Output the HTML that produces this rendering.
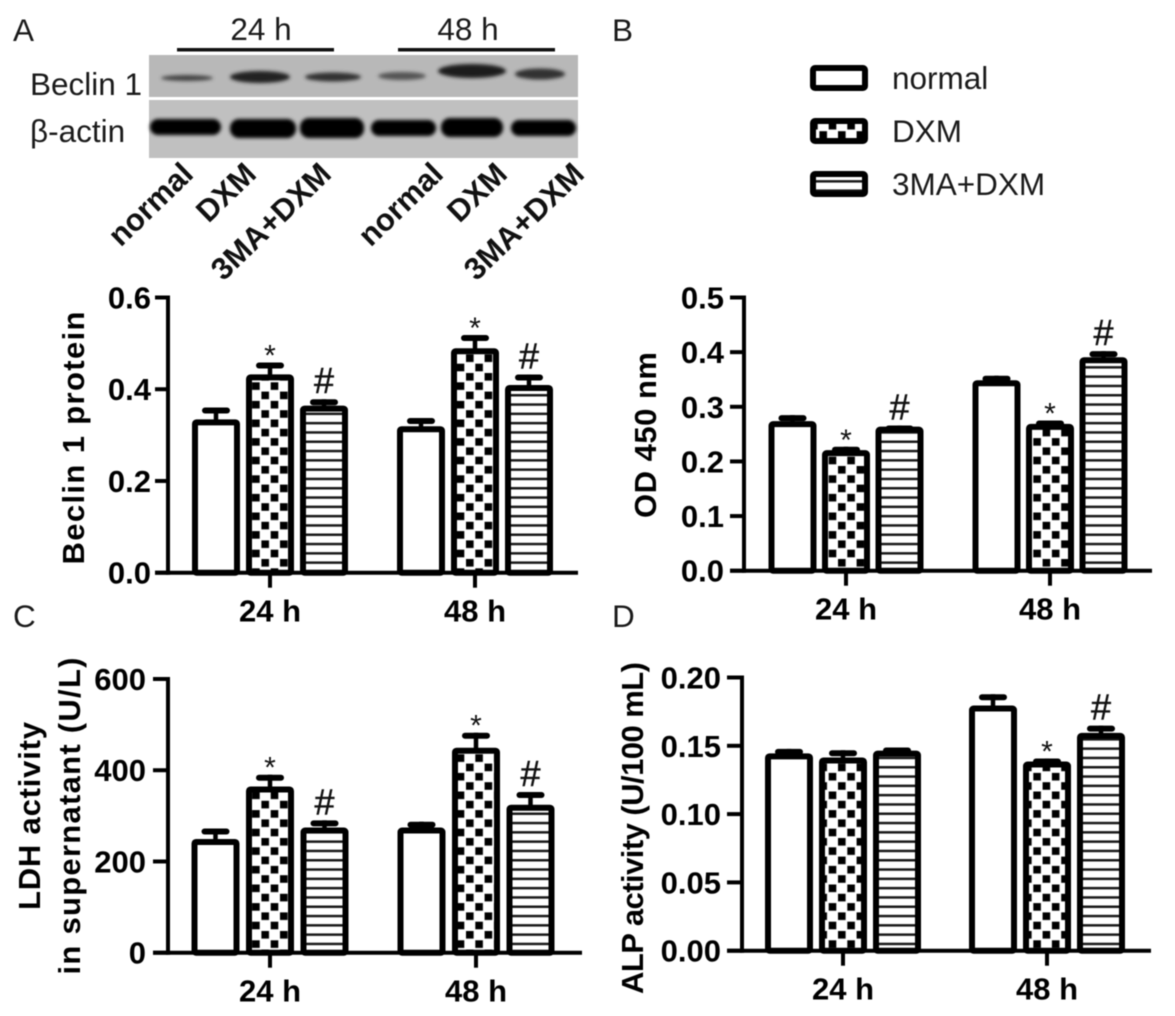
<!DOCTYPE html>
<html lang="en">
<head>
<meta charset="utf-8">
<title>Beclin 1, OD 450, LDH and ALP bar charts</title>
<style>
html,body{margin:0;padding:0;background:#fff;width:1175px;height:1016px;overflow:hidden}
svg{display:block;filter:blur(.6px)}
text{font-family:"Liberation Sans",sans-serif;fill:#111}
.b{font-weight:bold;font-size:31px;fill:#000}
.r{font-size:31.5px;fill:#1a1a1a}
</style>
</head>
<body>
<svg id="fig" xmlns="http://www.w3.org/2000/svg" width="1175" height="1016" viewBox="0 0 1175 1016">
<defs>
<pattern id="checker" patternUnits="userSpaceOnUse" width="18.6" height="18.6">
<rect width="18.6" height="18.6" fill="#fff"/>
<rect x="1" y="1" width="7.6" height="7.6" fill="#000"/>
<rect x="10.3" y="10.3" width="7.6" height="7.6" fill="#000"/>
</pattern>
<pattern id="stripes" patternUnits="userSpaceOnUse" width="10" height="9.3">
<rect width="10" height="9.3" fill="#fff"/>
<rect y="3.4" width="10" height="2.5" fill="#1a1a1a"/>
</pattern>
<filter id="bandblur" x="-20%" y="-80%" width="140%" height="260%"><feGaussianBlur stdDeviation="1.8"/></filter>
</defs>
<rect width="1175" height="1016" fill="#fff"/>

<text class="r" x="13" y="41">A</text>
<text class="r" x="612" y="41">B</text>
<text class="r" x="13" y="627">C</text>
<text class="r" x="612" y="627">D</text>

<g>
<text class="r" x="261" y="40" text-anchor="middle">24 h</text>
<text class="r" x="468" y="40" text-anchor="middle">48 h</text>
<rect x="177" y="48" width="157" height="3.5" fill="#111"/>
<rect x="398" y="48" width="157" height="3.5" fill="#111"/>
<rect x="149" y="55" width="429" height="42" fill="#b8b8b8"/>
<rect x="149" y="100" width="429" height="58" fill="#c0c0c0"/>
<g filter="url(#bandblur)">
<ellipse cx="187" cy="78" rx="26" ry="3" fill="#444"/>
<ellipse cx="260" cy="77" rx="30" ry="6" fill="#222"/>
<ellipse cx="333" cy="77" rx="28" ry="4.5" fill="#333"/>
<ellipse cx="402" cy="76" rx="24" ry="4" fill="#555"/>
<ellipse cx="472" cy="71" rx="34" ry="7" fill="#1a1a1a"/>
<ellipse cx="540" cy="74" rx="25" ry="5.5" fill="#333"/>
</g>
<g filter="url(#bandblur)">
<rect x="150" y="119" width="71" height="16" rx="8" fill="#000"/>
<rect x="230" y="119" width="66" height="19" rx="9" fill="#000"/>
<rect x="300" y="118" width="64" height="20" rx="9" fill="#000"/>
<rect x="371" y="120" width="65" height="16" rx="8" fill="#000"/>
<rect x="441" y="118" width="62" height="19" rx="9" fill="#000"/>
<rect x="511" y="120" width="65" height="16" rx="8" fill="#000"/>
</g>
<text class="r" x="30" y="95">Beclin 1</text>
<text class="r" x="30" y="142">β-actin</text>
<g style="font-size:31px;font-weight:bold">
<text text-anchor="end" transform="translate(195 176) rotate(-44)">normal</text>
<text text-anchor="end" transform="translate(258 176) rotate(-44)">DXM</text>
<text text-anchor="end" transform="translate(333 176) rotate(-44)">3MA+DXM</text>
<text text-anchor="end" transform="translate(445 176) rotate(-44)">normal</text>
<text text-anchor="end" transform="translate(509 176) rotate(-44)">DXM</text>
<text text-anchor="end" transform="translate(586 176) rotate(-44)">3MA+DXM</text>
</g>
</g>

<g>
<rect x="813" y="68" width="52" height="20" rx="2" fill="#fff" stroke="#000" stroke-width="6"/>
<text class="r" x="892" y="89">normal</text>
<rect x="813" y="121" width="52" height="20" rx="2" fill="url(#checker)" stroke="#000" stroke-width="6"/>
<text class="r" x="892" y="142">DXM</text>
<rect x="813" y="174" width="52" height="20" rx="2" fill="url(#stripes)" stroke="#000" stroke-width="6"/>
<text class="r" x="892" y="195">3MA+DXM</text>
</g>
<g id="charts"></g>
</svg>

<script>
// Shared categories
const categories = ['24 h', '48 h'];
const seriesNames = ['normal', 'dxm', '3ma-dxm'];

// Panel A: Beclin 1 protein
const aTicks = ['0.0', '0.2', '0.4', '0.6'];
const aNormal = [0.33, 0.315];
const aDxm = [0.428, 0.485];
const a3ma = [0.36, 0.405];
const aNormalErr = [0.358, 0.335];
const aDxmErr = [0.456, 0.516];
const a3maErr = [0.376, 0.43];
const aMarks = [['', '*', '#'], ['', '*', '#']];

// Panel B: OD 450 nm
const bTicks = ['0.0', '0.1', '0.2', '0.3', '0.4', '0.5'];
const bNormal = [0.27, 0.345];
const bDxm = [0.217, 0.265];
const b3ma = [0.26, 0.387];
const bNormalErr = [0.283, 0.355];
const bDxmErr = [0.225, 0.273];
const b3maErr = [0.264, 0.4];
const bMarks = [['', '*', '#'], ['', '*', '#']];

// Panel C: LDH activity
const cTicks = ['0', '200', '400', '600'];
const cNormal = [245, 270];
const cDxm = [360, 445];
const c3ma = [270, 320];
const cNormalErr = [270, 285];
const cDxmErr = [388, 480];
const c3maErr = [288, 350];
const cMarks = [['', '*', '#'], ['', '*', '#']];

// Panel D: ALP activity
const dTicks = ['0.00', '0.05', '0.10', '0.15', '0.20'];
const dNormal = [0.143, 0.178];
const dDxm = [0.14, 0.137];
const d3ma = [0.145, 0.158];
const dNormalErr = [0.147, 0.187];
const dDxmErr = [0.146, 0.14];
const d3maErr = [0.148, 0.164];
const dMarks = [['', '', ''], ['', '*', '#']];

const NS = 'http://www.w3.org/2000/svg';
const fills = ['#fff', 'url(#checker)', 'url(#stripes)'];

function node(parent, tag, props, txt) {
  const el = document.createElementNS(NS, tag);
  for (const k in props) el.setAttribute(k, props[k]);
  if (txt !== undefined) el.textContent = txt;
  parent.appendChild(el);
  return el;
}

function drawPanel(p) {
  const root = document.getElementById('charts');
  const g = node(root, 'g', {});
  
  

  const maxVal = parseFloat(p.ticks[p.ticks.length - 1]);
  const yScale = v => p.y0 - (v / maxVal) * (p.y0 - p.yTop);
  const groupX = i => p.firstCenter + i * p.groupStep;
  const barLeft = (i, s) => groupX(i) + (s - 1) * p.barStep - p.barW / 2;

  // Bars, error bars, significance marks
  p.series.forEach((vals, s) => {
    vals.forEach((v, i) => {
      const left = barLeft(i, s);
      const cx = left + p.barW / 2;
      const top = yScale(v);
      const errTop = yScale(p.errs[s][i]) - 1;

      const stem = node(g, 'line', {x1: cx, x2: cx, y1: top, y2: errTop, stroke: '#000', 'stroke-width': 4.5});
      
      

      const cap = node(g, 'line', {x1: cx - 11, x2: cx + 11, y1: errTop + 3, y2: errTop + 3, stroke: '#000', 'stroke-width': 6, 'stroke-linecap': 'round'});
      
      

      const bar = node(g, 'rect', {x: left + 3, y: top + 1, width: p.barW - 6, height: p.y0 - top - 1, rx: 1.5, fill: fills[s], stroke: '#000', 'stroke-width': 6, 'stroke-linejoin': 'round'});
      
      

      const mark = p.marks[i][s];
      if (mark === '*') {
        const t = node(g, 'text', {x: cx, y: errTop + 3, 'text-anchor': 'middle', style: 'font-size:30px;fill:#111'}, mark);
        
        
      } else if (mark === '#') {
        const t = node(g, 'text', {x: cx, y: errTop - 6, 'text-anchor': 'middle', style: 'font-size:36px;fill:#111;stroke:#111;stroke-width:.5'}, mark);
        
        
      }
    });
  });

  // Y axis
  const yAxis = node(g, 'line', {x1: p.axisX, x2: p.axisX, y1: p.yTop - 2, y2: p.y0 + 2, stroke: '#000', 'stroke-width': 4});
  
  

  p.ticks.forEach(label => {
    const y = yScale(parseFloat(label));
    const tick = node(g, 'line', {x1: p.tickX, x2: p.axisX, y1: y, y2: y, stroke: '#000', 'stroke-width': 4});
    
    
    const t = node(g, 'text', {x: p.labelX, y: y + 11, 'text-anchor': 'end', class: 'b'}, label);
    
    
  });

  // X axis
  const xAxis = node(g, 'line', {x1: p.tickX, x2: p.xEnd, y1: p.y0, y2: p.y0, stroke: '#000', 'stroke-width': 4});
  
  

  categories.forEach((c, i) => {
    const x = groupX(i);
    const tick = node(g, 'line', {x1: x, x2: x, y1: p.y0, y2: p.y0 + 15, stroke: '#000', 'stroke-width': 4});
    
    
    const t = node(g, 'text', {x: x, y: p.y0 + 49, 'text-anchor': 'middle', class: 'b'}, c);
    
    
  });

  // Axis titles
  p.titles.forEach(tt => {
    const t = node(g, 'text', {transform: 'translate(' + tt.x + ' ' + tt.y + ') rotate(-90)', 'text-anchor': 'middle', class: 'b', textLength: tt.len, lengthAdjust: 'spacing'}, tt.text);
    
    
  });
}

drawPanel({id: 'a', ticks: aTicks, series: [aNormal, aDxm, a3ma], errs: [aNormalErr, aDxmErr, a3maErr], marks: aMarks,
  y0: 572.7, yTop: 297.5, axisX: 168, tickX: 155, labelX: 151, xEnd: 578,
  firstCenter: 270, groupStep: 205, barStep: 54, barW: 48,
  titles: [{text: 'Beclin 1 protein', x: 84, y: 438, len: 253}]});

drawPanel({id: 'b', ticks: bTicks, series: [bNormal, bDxm, b3ma], errs: [bNormalErr, bDxmErr, b3maErr], marks: bMarks,
  y0: 570.7, yTop: 297.5, axisX: 744, tickX: 730, labelX: 724, xEnd: 1152,
  firstCenter: 846, groupStep: 204, barStep: 53.5, barW: 48,
  titles: [{text: 'OD 450 nm', x: 656, y: 435, len: 166}]});

drawPanel({id: 'c', ticks: cTicks, series: [cNormal, cDxm, c3ma], errs: [cNormalErr, cDxmErr, c3maErr], marks: cMarks,
  y0: 952.7, yTop: 679, axisX: 168, tickX: 153, labelX: 146, xEnd: 582,
  firstCenter: 270, groupStep: 206, barStep: 54.5, barW: 48,
  titles: [{text: 'LDH activity', x: 40, y: 816, len: 188}, {text: 'in supernatant (U/L)', x: 80, y: 816, len: 317}]});

drawPanel({id: 'd', ticks: dTicks, series: [dNormal, dDxm, d3ma], errs: [dNormalErr, dDxmErr, d3maErr], marks: dMarks,
  y0: 950.7, yTop: 677.5, axisX: 742, tickX: 727, labelX: 721, xEnd: 1151,
  firstCenter: 843, groupStep: 204, barStep: 54, barW: 48,
  titles: [{text: 'ALP activity (U/100 mL)', x: 643, y: 828, len: 332}]});
</script>
</body>
</html>
